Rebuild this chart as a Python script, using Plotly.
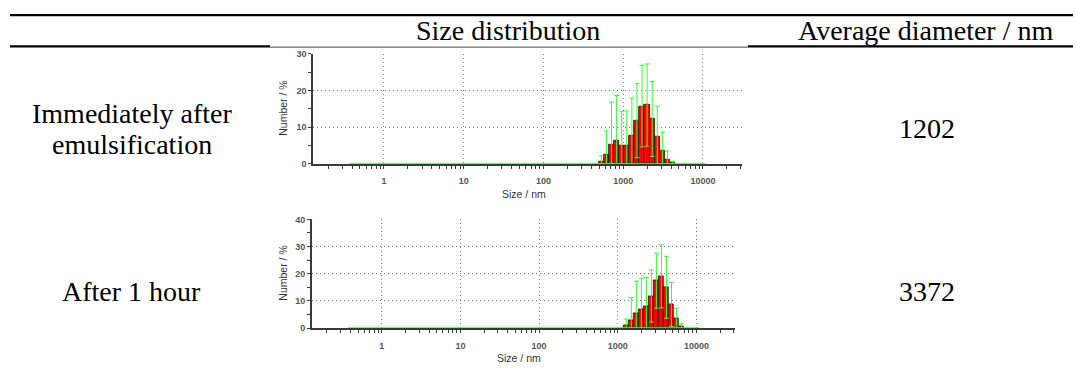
import math
import plotly.graph_objects as go

# ---------------- data ----------------
HEADERS = ["Size distribution", "Average diameter / nm"]
ROW_LABELS = [["Immediately after", "emulsification"], ["After 1 hour"]]
AVG_DIAMETER = [1202, 3372]

BIN_RATIO = 1.1580          # geometric step between neighbouring size classes
SIZE_RANGE = [0.4, 10000]   # first and last size class of the instrument (nm)

SIZES_1 = [531.2, 615.1, 712.4, 825.0, 955.4, 1106, 1281, 1484, 1718, 1990,
           2305, 2669, 3091, 3580, 4145]
NUMBER_1 = [0.7, 2.6, 5.3, 6.3, 5.1, 5.1, 7.7, 11.8, 15.7, 16.0, 12.2, 7.5, 3.5, 1.2, 0.3]
SD_1 = [1.5, 6.4, 11.5, 12.3, 9.1, 9.3, 10.2, 10.1, 11.1, 11.2, 10.2, 8.2, 5.1, 2.3, 0.4]

SIZES_2 = [1281, 1484, 1718, 1990, 2305, 2669, 3091, 3580, 4145, 4801, 5560, 6439]
NUMBER_2 = [1.0, 3.0, 5.5, 6.7, 7.9, 11.8, 17.4, 19.0, 15.0, 8.7, 3.5, 0.6]
SD_2 = [2.3, 8.2, 11.7, 11.6, 10.7, 9.6, 10.1, 11.6, 11.4, 8.1, 3.8, 1.0]

X_TICKS = [1, 10, 100, 1000, 10000]
X_TICKTEXT = ["1", "10", "100", "1000", "10000"]
Y_TICKS_1 = [0, 10, 20, 30]
Y_TICKS_2 = [0, 10, 20, 30, 40]

# ---------------- figure ----------------
W, H = 1076, 371
SERIF = "Times New Roman, Liberation Serif, Tinos, DejaVu Serif, serif"
SANS = "Arial, Liberation Sans, sans-serif"
GREEN = "#33ff33"
AXC = "#3a3a3a"
half = math.sqrt(BIN_RATIO)


def px(x):
    return x / W


def py(y):
    return 1 - y / H


fig = go.Figure()

panels = [
    dict(sizes=SIZES_1, vals=NUMBER_1, sd=SD_1, yt=Y_TICKS_1, n=1,
         dom_x=[313, 742], dom_y=[50, 163.3]),
    dict(sizes=SIZES_2, vals=NUMBER_2, sd=SD_2, yt=Y_TICKS_2, n=2,
         dom_x=[311.7, 735], dom_y=[220.3, 332]),
]

minor_x = [m * 10 ** k for k in range(-1, 5) for m in range(2, 10)]

for p in panels:
    n = p["n"]
    xa, ya = ("x", "y") if n == 1 else ("x2", "y2")
    # zero-valued size classes across the whole measured range
    fig.add_trace(go.Scatter(
        x=[SIZE_RANGE[0] / half, SIZE_RANGE[1] * half], y=[0, 0],
        mode="lines", line=dict(color=GREEN, width=1.5),
        xaxis=xa, yaxis=ya, showlegend=False, hoverinfo="skip"))
    lo = [c / half for c in p["sizes"]]
    hi = [c * half for c in p["sizes"]]
    fig.add_trace(go.Bar(
        x=p["sizes"], y=p["vals"],
        width=[h - l for l, h in zip(lo, hi)],
        offset=[l - c for l, c in zip(lo, p["sizes"])],
        marker=dict(color="#ff0000", line=dict(color="#1a1a1a", width=0.8)),
        error_y=dict(type="data", symmetric=False, array=p["sd"],
                     arrayminus=[min(s, v) for s, v in zip(p["sd"], p["vals"])],
                     color=GREEN, thickness=1, width=2.5),
        xaxis=xa, yaxis=ya, showlegend=False))

    dx = [px(p["dom_x"][0]), px(p["dom_x"][1])]
    dy = [py(p["dom_y"][1]), py(p["dom_y"][0])]
    axis_common = dict(showline=True, linecolor=AXC, linewidth=1.5,
                       ticks="outside", ticklen=3, tickcolor=AXC, tickwidth=1,
                       tickfont=dict(family=SANS, size=9, color="#555555", weight="bold"),
                       showgrid=True, gridcolor="#777777", gridwidth=1, griddash="1px,3px",
                       zeroline=False, fixedrange=True)
    xk = "xaxis" if n == 1 else "xaxis2"
    yk = "yaxis" if n == 1 else "yaxis2"
    fig.update_layout(**{
        xk: dict(axis_common, type="log", range=[-0.89, 4.49], domain=dx,
                 anchor=ya, tickmode="array", tickvals=X_TICKS, ticktext=X_TICKTEXT,
                 ticklabelstandoff=5,
                 minor=dict(tickmode="array", tickvals=minor_x, ticks="outside", ticklen=3,
                            tickcolor=AXC, showgrid=False)),
        yk: dict(axis_common, range=[0, p["yt"][-1]], domain=dy,
                 anchor=xa, tickmode="array", tickvals=p["yt"],
                 minor=dict(dtick=5, ticks="outside", ticklen=3,
                            tickcolor=AXC, showgrid=False)),
    })
    # axis titles
    cx = (p["dom_x"][0] + p["dom_x"][1]) / 2
    fig.add_annotation(x=px(cx - 4), y=py(p["dom_y"][1] + 31), xref="paper", yref="paper",
                       text="Size / nm", showarrow=False,
                       font=dict(family=SANS, size=10.5, color="#333333"),
                       xanchor="center", yanchor="middle")
    fig.add_annotation(x=px(283), y=py((p["dom_y"][0] + p["dom_y"][1]) / 2), xref="paper",
                       yref="paper", text="Number / %", textangle=-90, showarrow=False,
                       font=dict(family=SANS, size=10.5, color="#333333"),
                       xanchor="center", yanchor="middle")

# ---------------- table text ----------------
FS = 28


def table_text(x, y, t):
    fig.add_annotation(x=px(x), y=py(y), xref="paper", yref="paper", text=t,
                       showarrow=False, xanchor="center", yanchor="middle",
                       font=dict(family=SERIF, size=FS, color="black"))


table_text(508, 26, HEADERS[0])
table_text(925.5, 26, HEADERS[1])

row_centers = [127.4, 294]
for r, (lines, avg) in enumerate(zip(ROW_LABELS, AVG_DIAMETER)):
    nl = len(lines)
    for j, t in enumerate(lines):
        table_text(131.5, row_centers[r] + (j - (nl - 1) / 2) * 32.7, t)
    table_text(927, row_centers[r], str(avg))

# ---------------- table rules ----------------
shapes = [
    dict(x0=10, x1=1073, y0=10.5, y1=10.5, w=2.2, c="black"),
    dict(x0=10, x1=270, y0=42.5, y1=42.5, w=2.2, c="black"),
    dict(x0=748, x1=1073, y0=42.5, y1=42.5, w=2.2, c="black"),
    dict(x0=270, x1=748, y0=43.3, y1=43.3, w=1, c="#444444"),
]
for s in shapes:
    fig.add_shape(type="line", xref="paper", yref="paper",
                  x0=px(s["x0"]), x1=px(s["x1"]), y0=py(s["y0"]), y1=py(s["y1"]),
                  line=dict(color=s["c"], width=s["w"]))

fig.update_layout(width=W, height=H, autosize=False,
                  margin=dict(l=0, r=0, t=0, b=0, pad=0),
                  paper_bgcolor="white", plot_bgcolor="white",
                  bargap=0, barmode="overlay", showlegend=False)

fig.write_html("out.html", config={"displayModeBar": False})
